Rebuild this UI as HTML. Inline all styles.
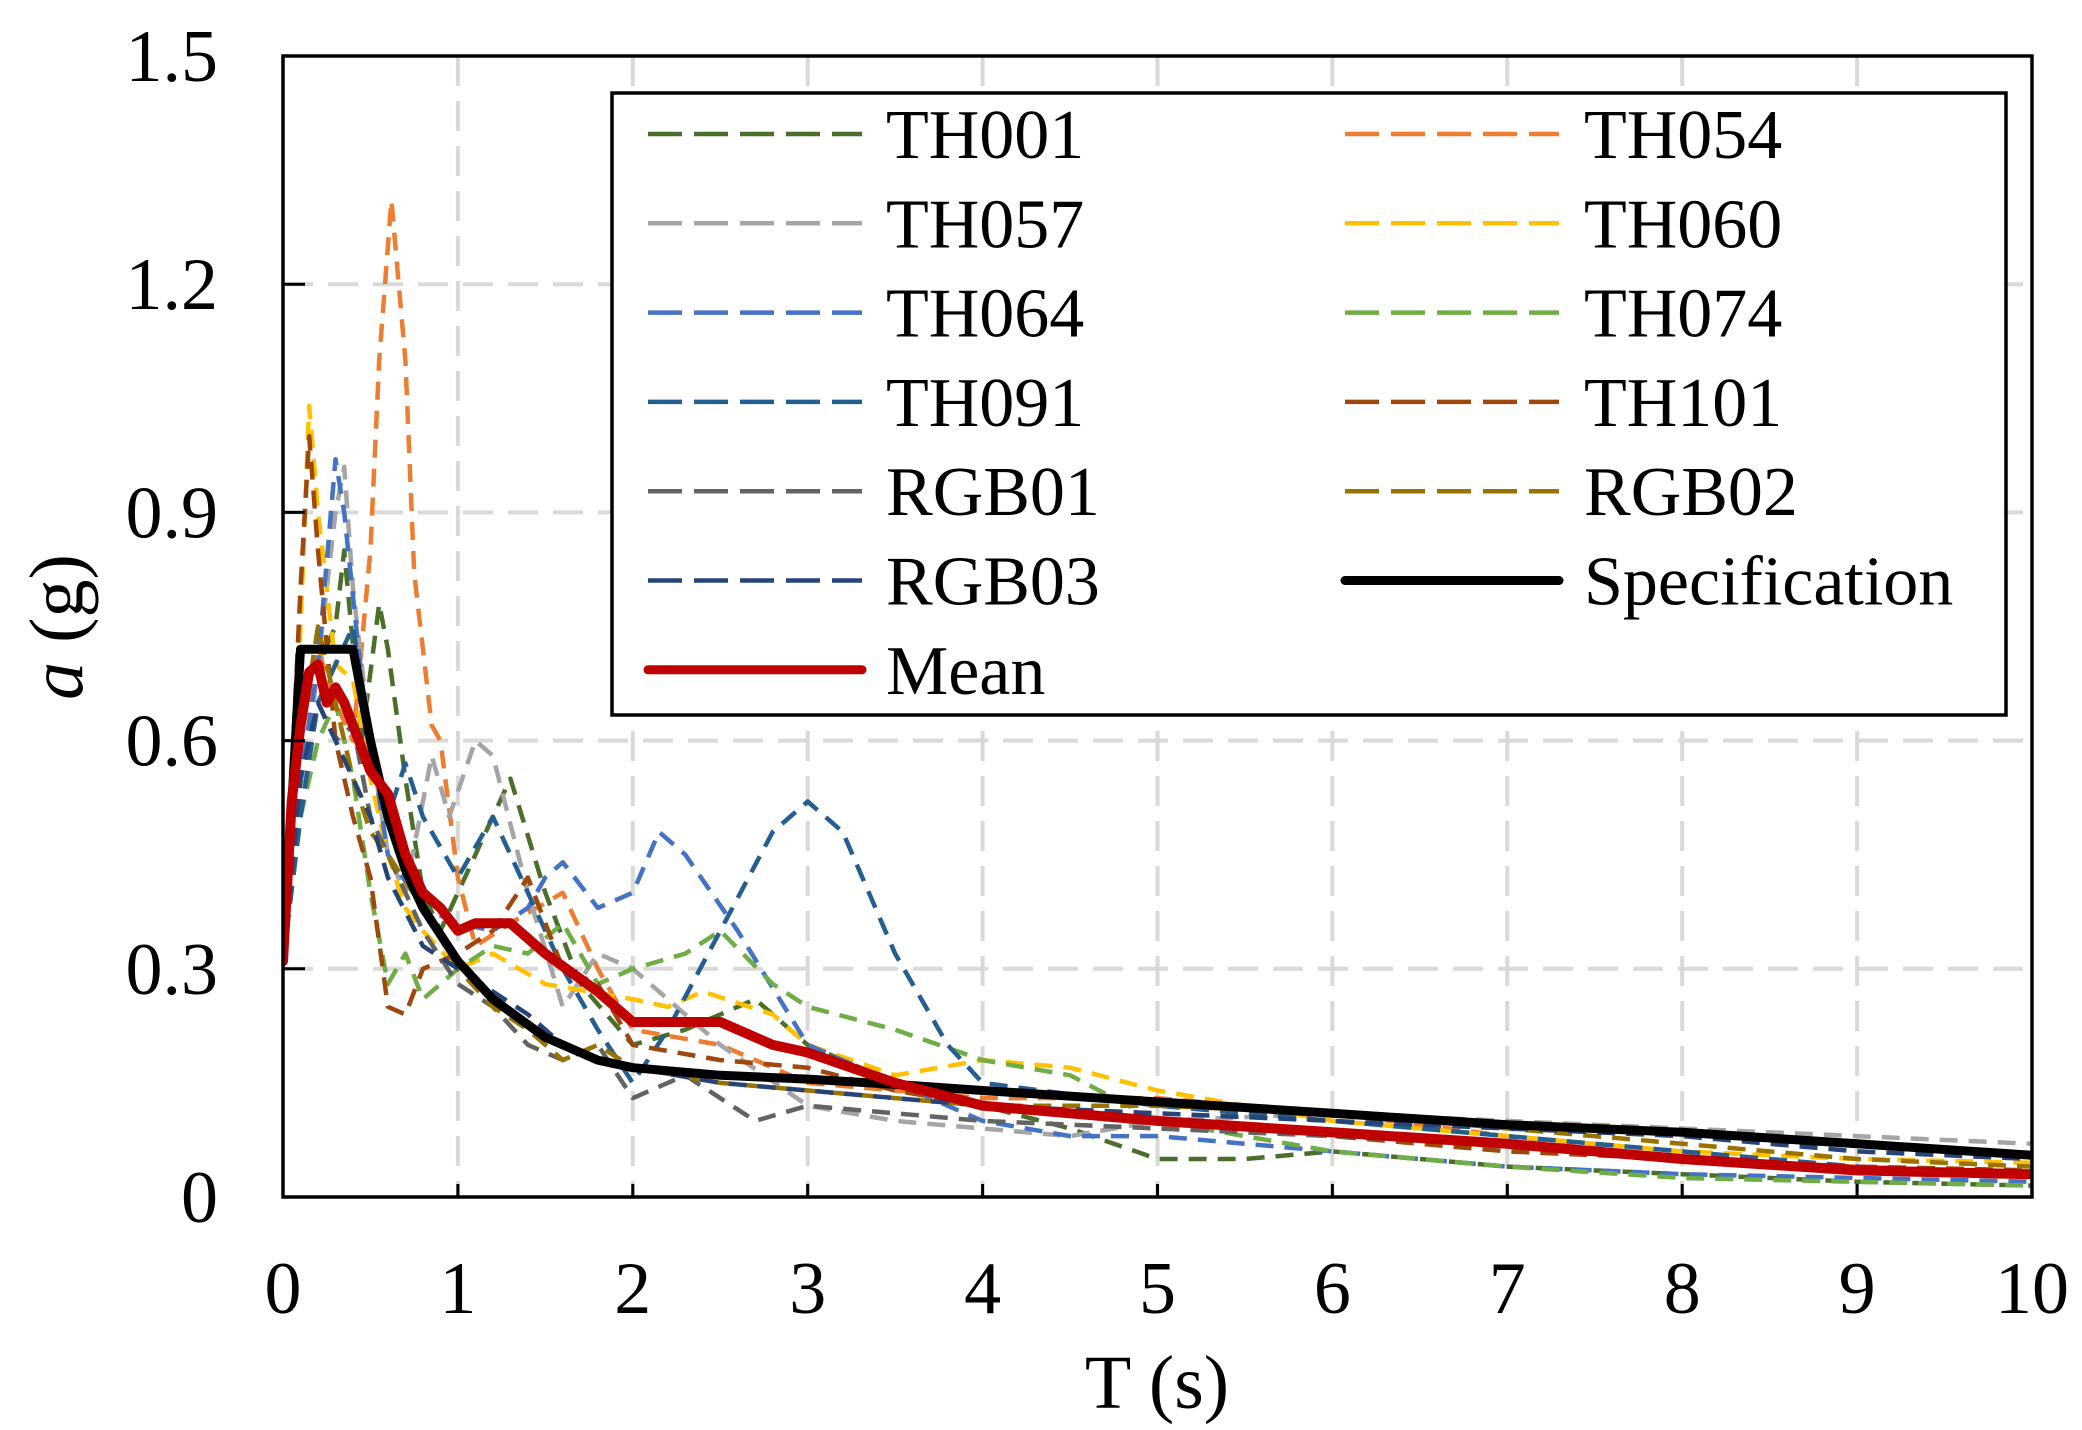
<!DOCTYPE html>
<html><head><meta charset="utf-8">
<style>
html,body{margin:0;padding:0;background:#fff;}
svg{display:block;font-family:"Liberation Serif",serif;}
</style></head>
<body>
<svg id="chart" width="2082" height="1430" viewBox="0 0 2082 1430" xmlns="http://www.w3.org/2000/svg">
<defs><clipPath id="plotclip"><rect x="283" y="56" width="1749" height="1141"/></clipPath></defs>
<g id="grid"></g>
<g id="series" clip-path="url(#plotclip)"></g>
<rect x="283" y="56" width="1749" height="1141" fill="none" stroke="#000" stroke-width="3.5"/>
<g id="ticks"></g>
<text x="1157" y="1408" font-size="76" text-anchor="middle">T (s)</text>
<text transform="translate(82,627) rotate(-90)" font-size="76" text-anchor="middle"><tspan font-style="italic">a</tspan> (g)</text>
<g id="legend"></g>
</svg>
<script>
const xTicks=[0,1,2,3,4,5,6,7,8,9,10];
const yTicks=[0,0.3,0.6,0.9,1.2,1.5];
const yTickLabels=["0","0.3","0.6","0.9","1.2","1.5"];
const seriesNames=["TH001","TH054","TH057","TH060","TH064","TH074","TH091","TH101","RGB01","RGB02","RGB03"];
const seriesColors=["#4B6F2B","#ED7D31","#A5A5A5","#FFC000","#4472C4","#70AD47","#255E91","#9E480E","#636363","#997300","#264478"];
const T_TH001=[0,0.1,0.2,0.3,0.35,0.45,0.55,0.6,0.7,0.8,0.9,1.0,1.1,1.3,1.5,1.7,2.0,2.3,2.7,3,3.5,4,4.5,5,5.5,6,7,8,9,10];
const A_TH001=[0.31,0.55,0.7,0.75,0.85,0.6,0.78,0.72,0.55,0.4,0.35,0.4,0.45,0.55,0.4,0.28,0.2,0.22,0.26,0.2,0.15,0.12,0.09,0.05,0.05,0.06,0.04,0.03,0.02,0.015];
const T_TH054=[0,0.1,0.2,0.3,0.4,0.5,0.55,0.62,0.7,0.75,0.85,0.9,1.0,1.1,1.3,1.6,1.8,2.0,2.5,3,3.5,4,5,6,7,8,9,10];
const A_TH054=[0.31,0.6,0.72,0.65,0.6,0.85,1.1,1.31,1.1,0.82,0.62,0.6,0.42,0.33,0.36,0.4,0.3,0.22,0.2,0.15,0.14,0.13,0.13,0.11,0.08,0.05,0.04,0.03];
const T_TH057=[0,0.1,0.2,0.3,0.35,0.4,0.5,0.6,0.7,0.85,0.95,1.1,1.2,1.4,1.6,1.8,2.0,2.5,3,3.5,4,4.5,5,6,7,8,9,10];
const A_TH057=[0.31,0.5,0.7,0.9,0.96,0.8,0.6,0.45,0.4,0.58,0.5,0.6,0.58,0.4,0.25,0.32,0.3,0.2,0.12,0.1,0.09,0.08,0.1,0.11,0.1,0.09,0.08,0.07];
const T_TH060=[0,0.1,0.15,0.2,0.3,0.4,0.5,0.6,0.7,0.8,1.0,1.2,1.5,2.0,2.2,2.4,2.8,3,3.5,4,4.5,5,6,7,8,9,10];
const A_TH060=[0.31,0.75,1.04,0.9,0.7,0.68,0.55,0.45,0.38,0.35,0.3,0.32,0.28,0.26,0.25,0.27,0.24,0.2,0.16,0.18,0.17,0.14,0.1,0.08,0.06,0.05,0.045];
const T_TH064=[0,0.1,0.2,0.3,0.35,0.45,0.5,0.6,0.8,1.0,1.2,1.4,1.5,1.6,1.8,2.0,2.15,2.3,2.6,3,3.5,4,4.5,5,6,7,8,9,10];
const A_TH064=[0.31,0.55,0.7,0.97,0.9,0.68,0.6,0.45,0.38,0.36,0.35,0.38,0.42,0.44,0.38,0.4,0.48,0.45,0.35,0.2,0.15,0.1,0.08,0.08,0.06,0.04,0.03,0.025,0.02];
const T_TH074=[0,0.1,0.2,0.3,0.4,0.5,0.6,0.7,0.8,1.0,1.2,1.4,1.6,1.8,2.0,2.3,2.5,2.8,3,3.5,4,4.5,5,6,7,8,9,10];
const A_TH074=[0.31,0.5,0.6,0.65,0.55,0.4,0.28,0.32,0.26,0.3,0.33,0.32,0.36,0.28,0.3,0.32,0.35,0.28,0.25,0.22,0.18,0.16,0.1,0.06,0.04,0.025,0.02,0.015];
const T_TH091=[0,0.1,0.2,0.3,0.4,0.5,0.6,0.7,0.8,1.0,1.2,1.4,1.6,1.8,2.0,2.2,2.5,2.8,3,3.2,3.5,3.8,4,5,6,7,8,9,10];
const A_TH091=[0.31,0.5,0.65,0.7,0.75,0.6,0.5,0.57,0.5,0.42,0.5,0.4,0.3,0.22,0.15,0.22,0.35,0.48,0.52,0.48,0.32,0.2,0.15,0.12,0.1,0.08,0.06,0.04,0.03];
const T_TH101=[0,0.1,0.15,0.2,0.3,0.4,0.5,0.6,0.7,0.8,1.0,1.2,1.4,1.6,1.8,2.0,2.5,3,3.5,4,5,6,7,8,9,10];
const A_TH101=[0.31,0.8,1.0,0.85,0.6,0.5,0.42,0.25,0.24,0.3,0.32,0.35,0.42,0.3,0.28,0.2,0.18,0.17,0.14,0.12,0.1,0.08,0.06,0.05,0.04,0.035];
const T_RGB01=[0,0.1,0.2,0.3,0.4,0.5,0.6,0.8,1.0,1.2,1.4,1.6,1.8,2.0,2.3,2.7,3,3.5,4,5,6,7,8,9,10];
const A_RGB01=[0.31,0.55,0.65,0.6,0.62,0.5,0.45,0.35,0.28,0.25,0.2,0.18,0.2,0.13,0.16,0.1,0.12,0.11,0.1,0.09,0.08,0.07,0.05,0.035,0.03];
const T_RGB02=[0,0.1,0.2,0.3,0.4,0.5,0.6,0.8,1.0,1.2,1.4,1.6,1.8,2.0,2.5,3,3.5,4,5,6,7,8,9,10];
const A_RGB02=[0.31,0.6,0.75,0.65,0.55,0.48,0.45,0.38,0.3,0.25,0.22,0.18,0.2,0.17,0.15,0.14,0.13,0.12,0.12,0.11,0.09,0.07,0.05,0.04];
const T_RGB03=[0,0.1,0.2,0.3,0.4,0.5,0.6,0.8,1.0,1.2,1.4,1.6,1.8,2.0,2.5,3,3.5,4,5,6,7,8,9,10];
const A_RGB03=[0.31,0.55,0.65,0.6,0.55,0.5,0.42,0.33,0.3,0.27,0.24,0.2,0.18,0.17,0.15,0.14,0.13,0.12,0.11,0.1,0.09,0.08,0.06,0.05];
const T_SPEC=[0,0.1,0.4,0.5,0.6,0.7,0.8,1.0,1.2,1.5,1.8,2.0,2.5,3,3.5,4,5,6,7,8,9,10];
const A_SPEC=[0.31,0.72,0.72,0.6,0.5,0.43,0.38,0.31,0.26,0.21,0.18,0.17,0.16,0.155,0.148,0.14,0.125,0.11,0.095,0.085,0.07,0.055];
const T_MEAN=[0,0.05,0.1,0.15,0.2,0.25,0.3,0.35,0.4,0.5,0.6,0.7,0.8,0.9,1.0,1.1,1.3,1.5,1.8,2.0,2.3,2.5,2.8,3,3.5,4,5,6,7,8,9,10];
const A_MEAN=[0.31,0.52,0.62,0.69,0.7,0.65,0.67,0.65,0.62,0.56,0.53,0.45,0.4,0.38,0.35,0.36,0.36,0.32,0.27,0.23,0.23,0.23,0.2,0.19,0.15,0.12,0.1,0.085,0.07,0.05,0.035,0.03];
const seriesT=[T_TH001,T_TH054,T_TH057,T_TH060,T_TH064,T_TH074,T_TH091,T_TH101,T_RGB01,T_RGB02,T_RGB03];
const seriesA=[A_TH001,A_TH054,A_TH057,A_TH060,A_TH064,A_TH074,A_TH091,A_TH101,A_RGB01,A_RGB02,A_RGB03];

const NS="http://www.w3.org/2000/svg";
const X0=283,X1=2032,Y0=1197,Y1=56;
function xs(t){return X0+(t-0)/(10-0)*(X1-X0);}
function ys(a){return Y0-(a-0)/(1.5-0)*(Y0-Y1);}
function mk(tag,attrs,parent){const e=document.createElementNS(NS,tag);for(const k in attrs)e.setAttribute(k,attrs[k]);parent.appendChild(e);return e;}
const grid=document.getElementById('grid'),ticks=document.getElementById('ticks'),ser=document.getElementById('series'),leg=document.getElementById('legend');

xTicks.forEach((t,i)=>{
  if(t>0&&t<10){const g=mk('line',{x1:xs(t),x2:xs(t),y1:Y1,y2:Y0,stroke:'#d9d9d9','stroke-width':4,'stroke-dasharray':'30 15'},grid);
  
  }
  const tk=mk('line',{x1:xs(t),x2:xs(t),y1:Y0,y2:Y0-13,stroke:'#000','stroke-width':3},ticks);
  
  
  const lb=mk('text',{x:xs(t),y:1313,'font-size':74,'text-anchor':'middle'},ticks);lb.textContent=String(t);
  
  
});
yTicks.forEach((a,i)=>{
  if(a>0&&a<1.5){const g=mk('line',{x1:X0,x2:X1,y1:ys(a),y2:ys(a),stroke:'#d9d9d9','stroke-width':4,'stroke-dasharray':'30 15'},grid);
  
  }
  const tk=mk('line',{x1:X0,x2:X0+22,y1:ys(a),y2:ys(a),stroke:'#000','stroke-width':3},ticks);
  
  
  const lb=mk('text',{x:218,y:ys(a)+25,'font-size':74,'text-anchor':'end'},ticks);lb.textContent=yTickLabels[i];
  
  
});
function pathD(T,A){return T.map((t,i)=>(i?'L':'M')+xs(t).toFixed(1)+' '+ys(A[i]).toFixed(1)).join(' ');}
seriesNames.forEach((n,i)=>{
  const p=mk('path',{d:pathD(seriesT[i],seriesA[i]),fill:'none',stroke:seriesColors[i],'stroke-width':4.5,'stroke-dasharray':'18 11','stroke-linejoin':'round'},ser);
  
  
});
const sp=mk('path',{d:pathD(T_SPEC,A_SPEC),fill:'none',stroke:'#000','stroke-width':9,'stroke-linejoin':'round'},ser);


const mp=mk('path',{d:pathD(T_MEAN,A_MEAN),fill:'none',stroke:'#C00000','stroke-width':10,'stroke-linejoin':'round','stroke-linecap':'round'},ser);



// legend
const lbox=mk('rect',{x:612,y:93,width:1394,height:622,fill:'#fff',stroke:'#000','stroke-width':3.5},leg);


const legNames=["TH001","TH054","TH057","TH060","TH064","TH074","TH091","TH101","RGB01","RGB02","RGB03","Specification","Mean"];
const legColors=seriesColors.concat(["#000","#C00000"]);
legNames.forEach((n,i)=>{
  const col=i%2,row=Math.floor(i/2);
  const cy=134+row*89.3;
  const lx=col?1345:648, tx=col?1584:886;
  const isSolid=i>=11;
  const ln=mk('line',{x1:lx,x2:lx+214,y1:cy,y2:cy,stroke:legColors[i],'stroke-width':isSolid?9:4.5,'stroke-linecap':isSolid?'round':'butt','stroke-dasharray':isSolid?'none':'34 12'},leg);
  
  
  const tx2=mk('text',{x:tx,y:cy+24,'font-size':70},leg);tx2.textContent=n;
  
  
});
</script>
</body></html>
